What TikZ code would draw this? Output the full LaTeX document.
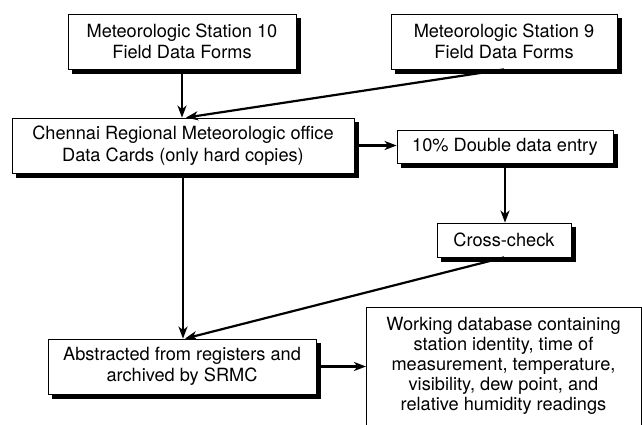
\documentclass[tikz,border=0pt]{standalone}
\usepackage{fontspec}
\setmainfont{TeX Gyre Heros}
\usetikzlibrary{arrows.meta}
\begin{document}
\begin{tikzpicture}[x=1pt,y=-1pt,
  font=\fontsize{18.2}{21.5}\selectfont,
  box/.style={draw=black, line width=0.8pt, fill=white, align=center, inner sep=0pt},
  shadowbox/.style={draw=black, fill=black, line width=0.8pt, inner sep=0pt},
  conn/.style={line width=2.2pt, -{Stealth[length=12pt,width=9pt,inset=3.5pt]}},
  frame/.style={draw=black, line width=0.8pt}]
\useasboundingbox (0,0) rectangle (642,425);
% shadows
\node[shadowbox, minimum width=228pt, minimum height=55pt] (s10sh) at (186,45.5) {};
\node[shadowbox, minimum width=226pt, minimum height=55pt] (s9sh) at (508,45.5) {};
\node[shadowbox, minimum width=342pt, minimum height=55pt] (chensh) at (187,149.5) {};
\node[shadowbox, minimum width=216pt, minimum height=33pt] (dblsh) at (509,150.5) {};
\node[shadowbox, minimum width=134pt, minimum height=34pt] (crosssh) at (508,244) {};
\node[shadowbox, minimum width=268pt, minimum height=55pt] (abssh) at (186,370.5) {};
% boxes
\node[box, minimum width=228pt, minimum height=55pt] (s10) at (182,41.5)
  {Meteorologic Station 10\\Field Data Forms};
\node[box, minimum width=226pt, minimum height=55pt] (s9) at (504,41.5)
  {Meteorologic Station 9\\Field Data Forms};
\node[box, minimum width=342pt, minimum height=55pt] (chen) at (183,145.5)
  {Chennai Regional Meteorologic office\\Data Cards (only hard copies)};
\node[box, minimum width=216pt, minimum height=33pt] (dbl) at (505,146.5)
  {10\% Double data entry};
\node[box, minimum width=134pt, minimum height=34pt] (cross) at (504,240)
  {Cross-check};
\node[box, minimum width=268pt, minimum height=55pt] (abs) at (182,366.5)
  {Abstracted from registers and\\archived by SRMC};
\coordinate (dbTL) at (366,307);
\coordinate (dbTR) at (641,307);
\draw[frame] (366,440) -- (dbTL) -- (dbTR) -- (641,440);
\node[align=center, inner sep=0pt, anchor=north, font=\fontsize{18.2}{20}\selectfont] (db) at (503.5,317)
  {Working database containing\\station identity, time of\\measurement, temperature,\\visibility, dew point, and\\relative humidity readings};
\draw[conn] (s10.south) -- (s10.south |- chen.north);
\draw[conn] (s9.south) -- ([xshift=3pt]chen.north);
\draw[conn] (chen.east) -- (chen.east -| dbl.west);
\draw[conn] (dbl.south) -- (dbl.south |- cross.north);
\draw[conn] (chen.south) -- (chen.south |- abs.north);
\draw[conn] (cross.south) -- ([xshift=3pt]abs.north);
\draw[conn] (abs.east) -- (abs.east -| dbTL);
\end{tikzpicture}
\end{document}
